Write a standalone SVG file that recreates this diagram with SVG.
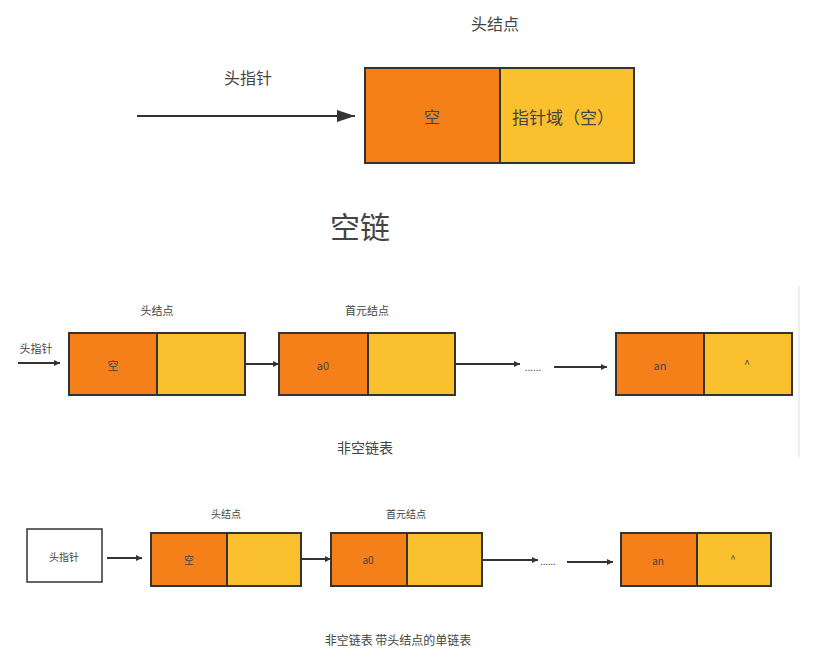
<svg xmlns="http://www.w3.org/2000/svg" width="835" height="666" viewBox="0 0 835 666">
<defs>
<style>
.t{font-family:"Noto Sans CJK SC","Liberation Sans",sans-serif;fill:#444;text-anchor:middle;dominant-baseline:central}
.o{fill:#F58019;stroke:#333;stroke-width:2}
.y{fill:#FBC02D;stroke:#333;stroke-width:2}
.c{stroke:#333;stroke-width:2;fill:none}
</style>
<marker id="ah" viewBox="0 0 10 10" refX="10" refY="5" markerWidth="6" markerHeight="6" markerUnits="userSpaceOnUse" orient="auto">
<path d="M0,0 L10,5 L0,10 z" fill="#333"/>
</marker>
<marker id="ahb" viewBox="0 0 10 10" refX="10" refY="5" markerWidth="18" markerHeight="12" markerUnits="userSpaceOnUse" orient="auto" preserveAspectRatio="none">
<path d="M0,0 L10,5 L0,10 z" fill="#333"/>
</marker>
</defs>
<rect width="835" height="666" fill="#fff"/>
<line x1="799" y1="286" x2="799" y2="457" stroke="#eee" stroke-width="2"/>

<!-- titles -->
<text class="t" x="495" y="23" font-size="16">头结点</text>
<text class="t" x="248" y="77" font-size="16">头指针</text>
<text class="t" x="360" y="225" font-size="30">空链</text>
<text class="t" x="157" y="310" font-size="11">头结点</text>
<text class="t" x="367" y="310" font-size="11">首元结点</text>
<text class="t" x="36" y="348" font-size="11">头指针</text>
<text class="t" x="365" y="447" font-size="14">非空链表</text>
<text class="t" x="226" y="513" font-size="10">头结点</text>
<text class="t" x="406" y="513" font-size="10">首元结点</text>
<text class="t" x="398" y="639" font-size="12">非空链表 带头结点的单链表</text>
<text class="t" x="533" y="366" font-size="10">......</text>
<text class="t" x="548" y="561" font-size="9">......</text>

<g id="top-head">
<rect class="o" x="365" y="68" width="135" height="95"/>
<rect class="y" x="500" y="68" width="134" height="95"/>
<text class="t" x="432" y="116" font-size="16">空</text>
<text class="t" x="563" y="116" font-size="17">指针域（空）</text>
</g>

<g id="mid-head">
<rect class="o" x="69" y="333" width="88" height="62"/>
<rect class="y" x="157" y="333" width="88" height="62"/>
<text class="t" x="113" y="365" font-size="11">空</text>
</g>
<g id="mid-a0">
<rect class="o" x="279" y="333" width="89" height="62"/>
<rect class="y" x="368" y="333" width="87" height="62"/>
<text class="t" x="323" y="365" font-size="11">a0</text>
</g>
<g id="mid-an">
<rect class="o" x="616" y="333" width="88" height="62"/>
<rect class="y" x="704" y="333" width="88" height="62"/>
<text class="t" x="660" y="365" font-size="11">an</text>
<text class="t" x="747" y="363" font-size="11">^</text>
</g>

<g id="bot-ptr">
<rect x="27" y="529" width="75" height="53" fill="#fff" stroke="#333" stroke-width="1.5"/>
<text class="t" x="64" y="556" font-size="10">头指针</text>
</g>
<g id="bot-head">
<rect class="o" x="151" y="533" width="76" height="53"/>
<rect class="y" x="227" y="533" width="74" height="53"/>
<text class="t" x="189" y="559" font-size="10">空</text>
</g>
<g id="bot-a0">
<rect class="o" x="331" y="533" width="76" height="53"/>
<rect class="y" x="407" y="533" width="75" height="53"/>
<text class="t" x="368" y="559" font-size="10">a0</text>
</g>
<g id="bot-an">
<rect class="o" x="621" y="533" width="76" height="53"/>
<rect class="y" x="697" y="533" width="74" height="53"/>
<text class="t" x="658" y="560" font-size="10">an</text>
<text class="t" x="733" y="558" font-size="10">^</text>
</g>

<g id="connectors">
<line class="c" x1="137" y1="116" x2="355" y2="116" stroke-width="2.5" marker-end="url(#ahb)"/>
<line class="c" x1="18" y1="363" x2="60" y2="363" stroke-width="1.5" marker-end="url(#ah)"/>
<line class="c" x1="245" y1="364" x2="279" y2="364" stroke-width="1.5" marker-end="url(#ah)"/>
<line class="c" x1="455" y1="364" x2="520" y2="364" stroke-width="1.5" marker-end="url(#ah)"/>
<line class="c" x1="554" y1="367" x2="607" y2="367" stroke-width="2" marker-end="url(#ah)"/>
<line class="c" x1="107" y1="558" x2="142" y2="558" stroke-width="1.5" marker-end="url(#ah)"/>
<line class="c" x1="301" y1="559" x2="331" y2="559" stroke-width="1.5" marker-end="url(#ah)"/>
<line class="c" x1="482" y1="560" x2="538" y2="560" stroke-width="1.5" marker-end="url(#ah)"/>
<line class="c" x1="567" y1="562" x2="613" y2="562" stroke-width="1.5" marker-end="url(#ah)"/>
</g>
</svg>
